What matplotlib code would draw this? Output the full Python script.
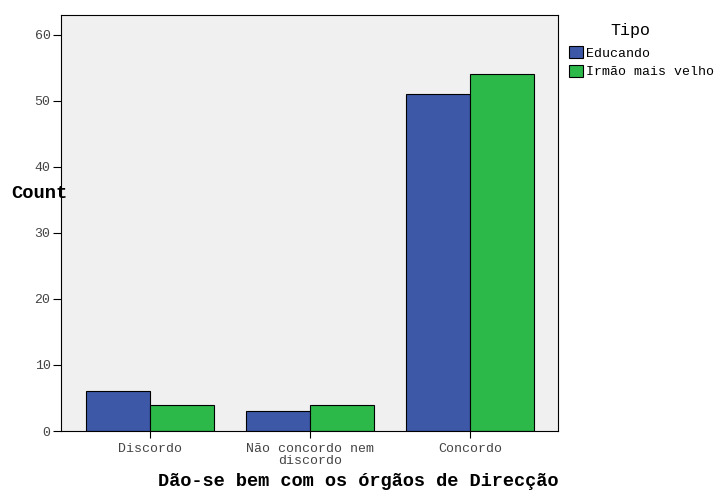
import numpy as np
import matplotlib
matplotlib.use("Agg")
import matplotlib.pyplot as plt
from matplotlib.patches import Patch

# data
categories = ["Discordo", "Não concordo nem\ndiscordo", "Concordo"]
educando = [6, 3, 51]
irmao = [4, 4, 54]
series_names = ["Educando", "Irmão mais velho"]
colors = ["#3e58a8", "#2db84a"]

plt.rcParams['font.family'] = ['Liberation Mono', 'DejaVu Sans Mono']

fig = plt.figure(figsize=(7.18, 4.91), dpi=100)
ax = fig.add_axes([61/718, 1-431/491, (558-61)/718, (431-15)/491])
ax.set_facecolor("#f0f0f0")

x = np.arange(len(categories))
w = 0.4
ax.bar(x - w/2, educando, w, color=colors[0], edgecolor="black", linewidth=0.8)
ax.bar(x + w/2, irmao, w, color=colors[1], edgecolor="black", linewidth=0.8)

ax.set_xlim(-0.556, 2.55)
ax.set_ylim(0, 63)
ax.set_yticks(range(0, 61, 10))
ax.set_xticks(x)
ax.set_xticklabels(categories, fontsize=9.5, color="#444444", linespacing=0.95)
ax.tick_params(axis="y", labelsize=9.5, labelcolor="#444444", length=6, pad=1.5)
ax.tick_params(axis="x", length=5, pad=4)
for s in ax.spines.values():
    s.set_linewidth(0.8)

fig.text(358/718, 1-482/491, "Dão-se bem com os órgãos de Direcção",
         ha="center", va="center", fontsize=13.4, fontweight="bold")
fig.text(11/718, 1-193/491, "Count", ha="left", va="center",
         fontsize=13.5, fontweight="bold")

# legend title drawn on its own so it sits where the reference has it
fig.text(630/718, 1-30/491, "Tipo", ha="center", va="center", fontsize=12)
handles = [Patch(facecolor=c, edgecolor="black", linewidth=0.8) for c in colors]
leg = fig.legend(handles, series_names, loc="upper left",
                 bbox_to_anchor=(569/718, 1-46/491), frameon=False,
                 fontsize=9.5, handlelength=1.05, handleheight=1.05,
                 handletextpad=0.25, labelspacing=0.38, borderaxespad=0,
                 borderpad=0)

fig.savefig("out.png", dpi=100)
